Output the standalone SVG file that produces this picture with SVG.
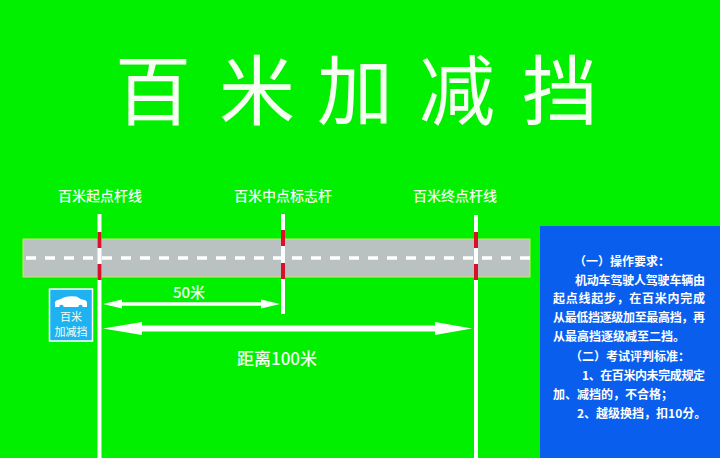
<svg xmlns="http://www.w3.org/2000/svg" width="720" height="458" viewBox="0 0 720 458">
<style>
.t{font-family:"Noto Sans CJK SC","Liberation Sans",sans-serif;fill:#f6fff2}
.lbl{font-size:14px;font-weight:500;text-anchor:middle}
.pn{font-size:12px;font-weight:bold;fill:#ffffff}
.pole{fill:#ffffff}
.red{fill:#d8102a}
.ah{fill:#ffffff}
</style>
<rect x="0" y="0" width="720" height="458" fill="#00f000"/>
<g id="title">
<text class="t" x="153 257 355 457 560" y="119" font-size="76" text-anchor="middle">百米加减挡</text>
</g>
<g id="road">
<rect x="23" y="239" width="507" height="38" fill="#b9c1c1" stroke="#cce860" stroke-width="1"/>
<line x1="26" y1="258" x2="537" y2="258" stroke="#ffffff" stroke-width="3.5" stroke-dasharray="10 9"/>
</g>
<g id="panel">
<rect x="540" y="226" width="180" height="232" fill="#0a5eee"/>
<text class="t pn" x="574" y="266">（一）操作要求：</text>
<text class="t pn" x="575" y="285" textLength="130" lengthAdjust="spacing">机动车驾驶人驾驶车辆由</text>
<text class="t pn" x="553" y="303" textLength="152" lengthAdjust="spacing">起点线起步，在百米内完成</text>
<text class="t pn" x="553" y="322" textLength="152" lengthAdjust="spacing">从最低挡逐级加至最高挡，再</text>
<text class="t pn" x="553" y="341">从最高挡逐级减至二挡。</text>
<text class="t pn" x="570" y="361">（二）考试评判标准：</text>
<text class="t pn" x="582" y="380" textLength="123" lengthAdjust="spacing">1、在百米内未完成规定</text>
<text class="t pn" x="553" y="399">加、减挡的，不合格；</text>
<text class="t pn" x="577" y="418">2、越级换挡，扣10分。</text>
</g>
<g id="start-pole">
<rect class="pole" x="97.5" y="214" width="4" height="244"/>
<rect class="red" x="97.5" y="232" width="4" height="16"/>
<rect class="red" x="97.5" y="264" width="4" height="16"/>
<text class="t lbl" x="100" y="201">百米起点杆线</text>
</g>
<g id="mid-pole">
<rect class="pole" x="281" y="214" width="4" height="100"/>
<rect class="red" x="281" y="230" width="4" height="16"/>
<rect class="red" x="281" y="263" width="4" height="16"/>
<text class="t lbl" x="283" y="201">百米中点标志杆</text>
</g>
<g id="end-pole">
<rect class="pole" x="474" y="215" width="4" height="243"/>
<rect class="red" x="474" y="232" width="4" height="16"/>
<rect class="red" x="474" y="264" width="4" height="16"/>
<text class="t lbl" x="455" y="201">百米终点杆线</text>
</g>
<g id="sign">
<rect x="49.5" y="289" width="43" height="52" fill="#1fb2f2" stroke="#ffffff" stroke-width="1.5"/>
<path d="M55,307 L55,302.5 Q55.5,300.2 59.5,299.6 L64.5,297.2 Q70,295.6 76.5,296.6 L81,299.3 Q86.5,299.9 87,302.5 L87,307 Z" fill="#ffffff"/>
<circle cx="61.5" cy="307" r="2.2" fill="#1fb2f2"/>
<circle cx="80.5" cy="307" r="2.2" fill="#1fb2f2"/>
<text class="t" x="71" y="321" font-size="11" text-anchor="middle" fill="#ffffff">百米</text>
<text class="t" x="71" y="336" font-size="11" text-anchor="middle" fill="#ffffff">加减挡</text>
</g>
<g id="connectors">
<line x1="115" y1="304" x2="268" y2="304" stroke="#ffffff" stroke-width="3.5"/>
<polygon class="ah" points="103,304 122,299.5 122,308.5"/>
<polygon class="ah" points="280,304 261,299.5 261,308.5"/>
<line x1="135" y1="328.5" x2="440" y2="328.5" stroke="#ffffff" stroke-width="6"/>
<polygon class="ah" points="103,328.5 142,322 142,335"/>
<polygon class="ah" points="472,328.5 435,322 435,335"/>
<text class="t" x="189" y="298" font-size="15" font-weight="500" text-anchor="middle">50米</text>
<text class="t" x="277" y="365" font-size="17" font-weight="500" text-anchor="middle">距离100米</text>
</g>
</svg>
